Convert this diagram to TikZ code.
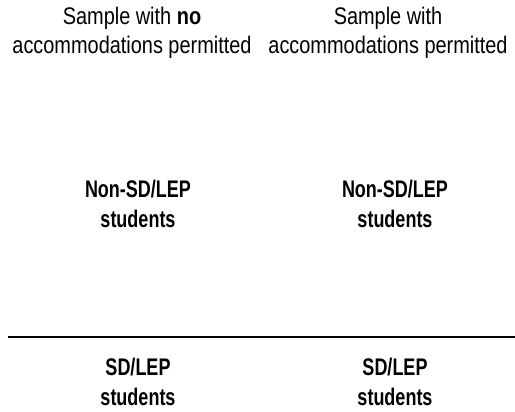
\documentclass[tikz,border=0pt]{standalone}
\usepackage{fontspec}
\setmainfont{Liberation Sans}[FakeStretch=0.83]
\newfontfamily\condbold{Liberation Sans Bold}[FakeStretch=0.75]
\begin{document}
\begin{tikzpicture}[x=1pt,y=-1pt,
  lbl/.style={inner sep=0pt,align=center,font=\fontsize{24}{29}\selectfont},
  blbl/.style={inner sep=0pt,align=center,font=\fontsize{24}{30}\selectfont\condbold}]
\useasboundingbox (0,0) rectangle (515,412);
\node[lbl] (h1) at (132,33) {Sample with \textbf{no}\\accommodations permitted};
\node[lbl] (h2) at (388,33) {Sample with\\accommodations permitted};
\node[blbl] (n1) at (138,204) {Non-SD/LEP\\students};
\node[blbl] (n2) at (395,204) {Non-SD/LEP\\students};
\node[blbl] (s1) at (138,382) {SD/LEP\\students};
\node[blbl] (s2) at (395,382) {SD/LEP\\students};
\coordinate (la) at (8,337);
\coordinate (lb) at (515,337);
\draw[line width=1.4pt] (la) -- (lb);
\end{tikzpicture}
\end{document}
